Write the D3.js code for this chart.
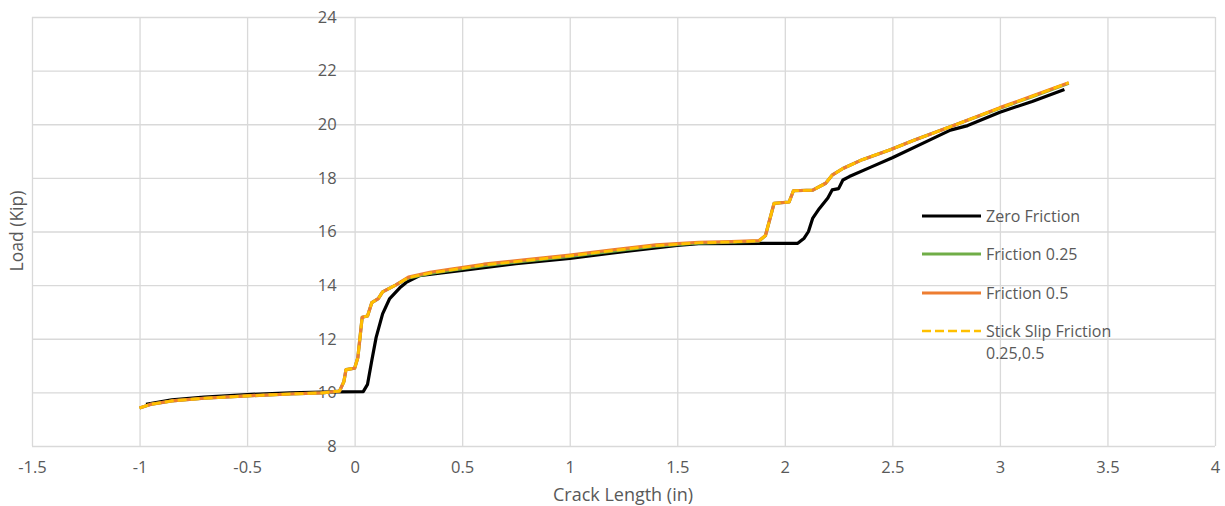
<!DOCTYPE html>
<html>
<head>
<meta charset="utf-8">
<script src="https://cdn.jsdelivr.net/npm/d3@7"></script>
<style>
  body { margin: 0; background: #fff; }
  text { font-family: "Open Sans", sans-serif; fill: #595959; }
</style>
</head>
<body>
<script>
// ticks
const xTicks = [-1.5, -1, -0.5, 0, 0.5, 1, 1.5, 2, 2.5, 3, 3.5, 4]
const yTicks = [8, 10, 12, 14, 16, 18, 20, 22, 24]

// Zero Friction
const zeroX = [-0.97, -0.85, -0.7, -0.5, -0.3, -0.1, 0.04, 0.06, 0.08, 0.10, 0.13, 0.163, 0.21, 0.24, 0.3, 0.5, 0.75, 1.0, 1.25, 1.5, 1.6, 2.06, 2.09, 2.11, 2.13, 2.16, 2.2, 2.22, 2.25, 2.27, 2.3, 2.4, 2.5, 2.67, 2.77, 2.85, 3.0, 3.15, 3.3]
const zeroY = [9.55, 9.72, 9.82, 9.92, 9.98, 10.02, 10.03, 10.3, 11.2, 12.05, 12.93, 13.5, 13.9, 14.1, 14.35, 14.55, 14.8, 15.0, 15.25, 15.48, 15.55, 15.56, 15.75, 16.0, 16.5, 16.85, 17.25, 17.55, 17.6, 17.92, 18.05, 18.4, 18.75, 19.4, 19.78, 19.95, 20.45, 20.85, 21.3]

// friction runs share crack length steps
const fricX = [-1.0, -0.95, -0.85, -0.7, -0.5, -0.3, -0.15, -0.07, -0.05, -0.04, 0.0, 0.015, 0.035, 0.06, 0.08, 0.11, 0.13, 0.19, 0.25, 0.35, 0.45, 0.6, 0.8, 1.0, 1.2, 1.4, 1.6, 1.75, 1.88, 1.91, 1.95, 2.02, 2.04, 2.13, 2.19, 2.22, 2.27, 2.36, 2.49, 2.6, 2.8, 3.0, 3.15, 3.32]
const fric025Y = [9.42, 9.55, 9.68, 9.78, 9.87, 9.94, 9.98, 10.05, 10.4, 10.85, 10.9, 11.3, 12.8, 12.85, 13.35, 13.5, 13.75, 14.0, 14.27, 14.44, 14.56, 14.73, 14.9, 15.07, 15.27, 15.45, 15.57, 15.6, 15.64, 15.85, 17.05, 17.1, 17.52, 17.54, 17.8, 18.1, 18.35, 18.68, 19.05, 19.4, 20.0, 20.6, 21.03, 21.53]
const fric05Y = [9.42, 9.55, 9.68, 9.78, 9.87, 9.94, 9.98, 10.05, 10.4, 10.85, 10.9, 11.3, 12.8, 12.85, 13.35, 13.5, 13.75, 14.0, 14.3, 14.48, 14.6, 14.78, 14.95, 15.12, 15.32, 15.5, 15.6, 15.62, 15.66, 15.85, 17.05, 17.1, 17.52, 17.54, 17.8, 18.1, 18.35, 18.68, 19.05, 19.4, 20.0, 20.62, 21.05, 21.55]
const stickY = [9.42, 9.55, 9.68, 9.78, 9.87, 9.94, 9.98, 10.05, 10.4, 10.85, 10.9, 11.3, 12.8, 12.85, 13.35, 13.5, 13.75, 14.0, 14.28, 14.45, 14.57, 14.75, 14.92, 15.09, 15.29, 15.47, 15.58, 15.61, 15.65, 15.85, 17.05, 17.1, 17.52, 17.54, 17.8, 18.1, 18.35, 18.68, 19.05, 19.4, 20.0, 20.61, 21.04, 21.55]

const seriesNames = ['Zero Friction', 'Friction 0.25', 'Friction 0.5', 'Stick Slip Friction']
const seriesColors = ['#000000', '#70AD47', '#ED7D31', '#FFC000']

const dim = {width: 1225, height: 506}
const margin = {top: 17, left: 32, right: 10, bottom: 60}
const w = dim.width - margin.left - margin.right
const h = dim.height - margin.top - margin.bottom

const svg = d3.select('body').append('svg').attr('width', dim.width).attr('height', dim.height)
const g = svg.append('g').attr('transform', `translate(${margin.left},${margin.top})`)

const x = d3.scaleLinear().domain([-1.5, 4]).range([0, w])
const y = d3.scaleLinear().domain([8, 24]).range([h, 0])

// grid
g.append('g').call(d3.axisBottom(x).tickValues(xTicks).tickSize(h).tickFormat(''))
  .call(s => s.select('.domain').remove())
  .selectAll('line').attr('stroke', '#d9d9d9').attr('stroke-width', 1.3)
g.append('g').call(d3.axisLeft(y).tickValues(yTicks).tickSize(-w).tickFormat(''))
  .call(s => s.select('.domain').remove())
  .selectAll('line').attr('stroke', '#d9d9d9').attr('stroke-width', 1.3)

// x tick labels
const xAxis = g.append('g').attr('transform', `translate(0,${h})`)
  .call(d3.axisBottom(x).tickValues(xTicks).tickSize(0).tickPadding(15).tickFormat(d => String(d)))
xAxis.select('.domain').remove()
xAxis.selectAll('text').attr('font-size', 16.5).attr('fill', '#595959').attr('font-family', '"Open Sans", sans-serif')

// y labels next to the x = 0 line
const yAxis = g.append('g').attr('transform', `translate(${x(0)},0)`)
  .call(d3.axisLeft(y).tickValues(yTicks).tickSize(0).tickPadding(18).tickFormat(d => String(d)))
yAxis.select('.domain').remove()
yAxis.selectAll('text').attr('font-size', 16.5).attr('fill', '#595959').attr('font-family', '"Open Sans", sans-serif')

// titles
svg.append('text').attr('x', 623).attr('y', 501).attr('text-anchor', 'middle')
  .attr('font-size', 18).text('Crack Length (in)')
svg.append('text').attr('transform', 'translate(23,231) rotate(-90)').attr('text-anchor', 'middle')
  .attr('font-size', 17.5).text('Load (Kip)')

// lines
const line = d3.line().x(d => x(d[0])).y(d => y(d[1]))
const series = [
  {pts: zeroX.map((v, i) => [v, zeroY[i]]), color: seriesColors[0], dash: null, width: 3.2},
  {pts: fricX.map((v, i) => [v, fric025Y[i]]), color: seriesColors[1], dash: null, width: 3.2},
  {pts: fricX.map((v, i) => [v, fric05Y[i]]), color: seriesColors[2], dash: null, width: 3.2},
  {pts: fricX.map((v, i) => [v, stickY[i]]), color: seriesColors[3], dash: '9,4', width: 2.7}
]
g.selectAll('path.series').data(series).enter().append('path')
  .attr('class', 'series')
  .attr('d', d => line(d.pts))
  .attr('fill', 'none')
  .attr('stroke', d => d.color)
  .attr('stroke-width', d => d.width)
  .attr('stroke-dasharray', d => d.dash)
  .attr('stroke-linejoin', 'round')

// legend
const legY = [216, 254, 293, 331]
const leg = svg.append('g')
seriesNames.forEach((n, i) => {
  leg.append('line')
    .attr('x1', 922).attr('x2', 981).attr('y1', legY[i]).attr('y2', legY[i])
    .attr('stroke', seriesColors[i]).attr('stroke-width', i === 3 ? 2.7 : 3.2)
    .attr('stroke-dasharray', i === 3 ? '9,4' : null)
  leg.append('text').attr('x', 986).attr('y', legY[i] + 6).attr('font-size', 16).text(n)
})
leg.append('text').attr('x', 986).attr('y', legY[3] + 28).attr('font-size', 16).text('0.25,0.5')
</script>
</body>
</html>
